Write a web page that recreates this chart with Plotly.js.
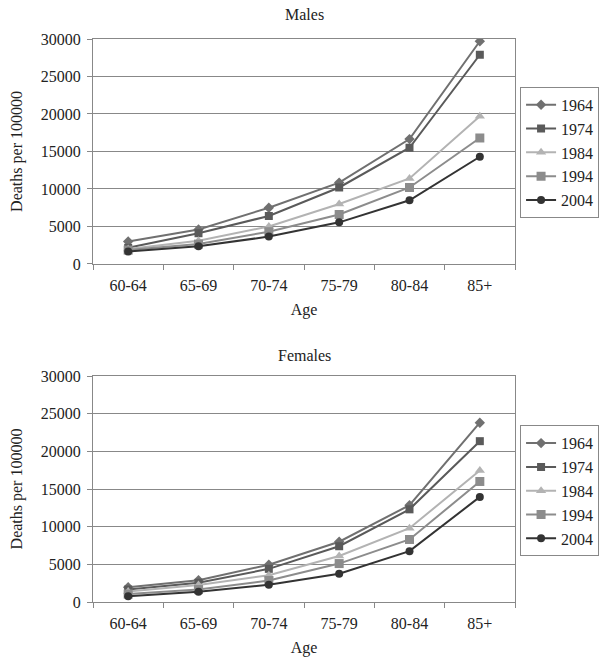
<!DOCTYPE html>
<html>
<head>
<meta charset="utf-8">
<script src="https://cdn.plot.ly/plotly-3.0.1.min.js"></script>
<style>
  body { margin: 0; background: #fff; }
  #chart { width: 602px; height: 671px; }
</style>
</head>
<body>
<div id="chart"></div>
<script>
// Tasas de mortalidad por edad, hombres y mujeres
let ages = ["60-64", "65-69", "70-74", "75-79", "80-84", "85+"];
let years = ["1964", "1974", "1984", "1994", "2004"];

let males1964 = [3000, 4600, 7500, 10850, 16650, 29700];
let males1974 = [2150, 4100, 6400, 10200, 15500, 27900];
let males1984 = [2000, 3100, 5000, 8000, 11400, 19700];
let males1994 = [1850, 2650, 4300, 6600, 10200, 16800];
let males2004 = [1650, 2350, 3650, 5550, 8500, 14300];

let females1964 = [1950, 2900, 4950, 8000, 12850, 23800];
let females1974 = [1650, 2550, 4400, 7400, 12300, 21350];
let females1984 = [1400, 2250, 3550, 6100, 9800, 17450];
let females1994 = [1050, 1650, 2850, 5100, 8300, 16000];
let females2004 = [750, 1350, 2300, 3750, 6750, 13950];

let colors = ["#707070", "#5a5a5a", "#b3b3b3", "#8c8c8c", "#333333"];
let symbols = ["diamond", "square", "triangle-up", "square", "circle"];
let sizes = [8, 8, 9, 9, 8];

let fontFamily = "Liberation Serif, Times New Roman, serif";

function makeTraces(series, xa, ya, legendName) {
  return series.map(function(values, i) {
    return {
      x: ages,
      y: values,
      name: years[i],
      type: "scatter",
      mode: "lines+markers",
      xaxis: xa,
      yaxis: ya,
      legend: legendName,
      line: {color: colors[i], width: 2},
      marker: {color: colors[i], symbol: symbols[i], size: sizes[i]}
    };
  });
}

let traces = makeTraces([males1964, males1974, males1984, males1994, males2004],
                        "x", "y", "legend")
  .concat(makeTraces([females1964, females1974, females1984, females1994, females2004],
                     "x2", "y2", "legend2"));

function xAxis(anchor) {
  return {
    anchor: anchor,
    type: "category",
    range: [-0.5, 5.5],
    tickson: "boundaries",
    ticks: "outside",
    ticklen: 5,
    ticklabelstandoff: 7,
    tickcolor: "#888",
    showline: true,
    linecolor: "#888",
    linewidth: 1,
    mirror: true,
    showgrid: false,
    automargin: false,
    tickfont: {size: 16, color: "#222"},
    title: {text: "Age", font: {size: 16, color: "#222"}, standoff: 10}
  };
}

function yAxis(anchor, domain) {
  return {
    anchor: anchor,
    domain: domain,
    range: [0, 30000],
    dtick: 5000,
    tickformat: "d",
    ticks: "outside",
    ticklen: 5,
    ticklabelstandoff: 3,
    tickcolor: "#888",
    showline: true,
    linecolor: "#888",
    linewidth: 1,
    mirror: true,
    showgrid: true,
    gridcolor: "#888",
    gridwidth: 1,
    zeroline: false,
    automargin: false,
    tickfont: {size: 16, color: "#222"},
    title: {text: "Deaths per 100000", font: {size: 16, color: "#222"}, standoff: 14}
  };
}

function legendBox(y) {
  return {
    x: 1.012,
    xanchor: "left",
    y: y,
    yanchor: "top",
    bgcolor: "#fff",
    bordercolor: "#888",
    borderwidth: 1,
    font: {size: 16, color: "#222", family: fontFamily}
  };
}

let layout = {
  width: 602,
  height: 671,
  margin: {l: 93, r: 87, t: 39, b: 69, autoexpand: false},
  paper_bgcolor: "#fff",
  plot_bgcolor: "#fff",
  font: {family: fontFamily, color: "#222"},
  showlegend: true,
  xaxis: xAxis("y"),
  yaxis: yAxis("x", [0.6004, 1]),
  xaxis2: xAxis("y2"),
  yaxis2: yAxis("x2", [0, 0.4014]),
  legend: legendBox(0.915),
  legend2: legendBox(0.314),
  annotations: [
    {text: "Males", xref: "paper", yref: "paper", x: 0.5, y: 1, yshift: 14,
     yanchor: "bottom", showarrow: false, font: {size: 16, color: "#222"}},
    {text: "Females", xref: "paper", yref: "paper", x: 0.5, y: 0.4014, yshift: 10,
     yanchor: "bottom", showarrow: false, font: {size: 16, color: "#222"}}
  ]
};

Plotly.newPlot("chart", traces, layout, {displayModeBar: false});
</script>
</body>
</html>
